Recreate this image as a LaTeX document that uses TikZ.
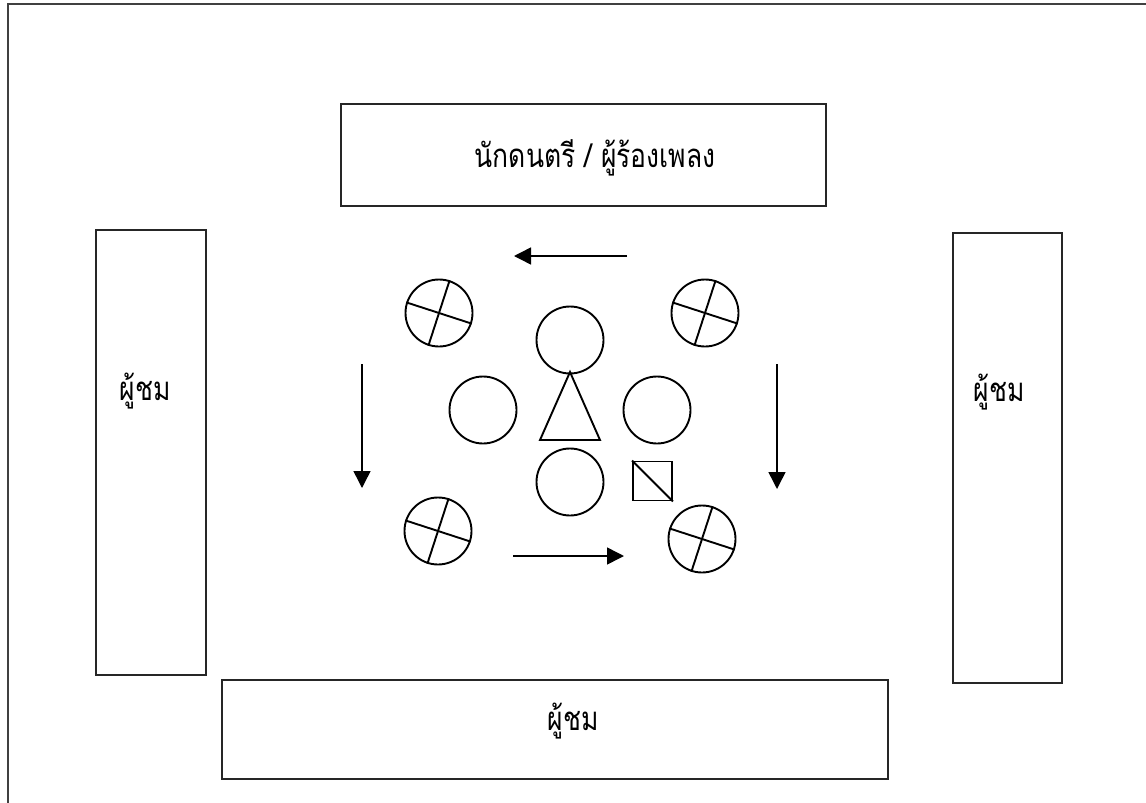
\documentclass[tikz,border=0pt]{standalone}
\usepackage{fontspec}
\newfontfamily\thaifont[Script=Thai]{Loma}
\usetikzlibrary{arrows.meta,shapes.geometric}
\newcommand{\tallthai}[1]{\scalebox{0.98}[1.22]{#1}}
\tikzset{
  frameline/.style={line width=1.8pt, draw=black!75},
  boxline/.style={line width=2pt, draw=black!85},
  thaitext/.style={font=\thaifont\fontsize{27}{30}\selectfont, anchor=base, inner sep=0pt},
  ring/.style={circle, draw, line width=1.9pt, minimum size=67pt, inner sep=0pt},
  sq/.style={rectangle, draw, line width=1.9pt, minimum size=39pt, inner sep=0pt},
  flow/.style={line width=1.5pt, -{Triangle[length=17pt,width=17pt]}},
}
\begin{document}
\begin{tikzpicture}[x=1pt,y=-1pt]
\useasboundingbox (0,0) rectangle (1146,803);
% outer frame (left and top edges visible)
\draw[frameline] (8,803) -- (8,4) -- (1146,4);
% boxes
\draw[boxline] (341,104) rectangle (826,206);
\draw[boxline] (96,230) rectangle (206,675);
\draw[boxline] (953,233) rectangle (1062,683);
\draw[boxline] (222,680) rectangle (888,779);
% labels
\node[thaitext] (ttop) at (595,167) {\tallthai{นักดนตรี / ผู้ร้องเพลง}};
\node[thaitext] (tleft) at (145,400) {\tallthai{ผู้ชม}};
\node[thaitext] (tright) at (999,401) {\tallthai{ผู้ชม}};
\node[thaitext] (tbottom) at (573,730) {\tallthai{ผู้ชม}};
% crossed circles
\foreach \n/\x/\y in {c1/439/313, c2/705/313, c3/438/531, c4/702/539}{
  \node[ring] (\n) at (\x,\y) {};
  \draw[line width=1.9pt] (\n.162) -- (\n.-18);
  \draw[line width=1.9pt] (\n.72) -- (\n.252);
}
% plain circles
\node[ring] (p1) at (570,340) {};
\node[ring] (p2) at (483,410) {};
\node[ring] (p3) at (657,410) {};
\node[ring] (p4) at (570,482) {};
% triangle
\coordinate (ta) at (570,372);
\coordinate (tb) at (540,440);
\coordinate (tc) at (600,440);
\draw[line width=1.9pt, line join=miter] (ta) -- (tb) -- (tc) -- cycle;
% square with diagonal
\node[sq] (s) at (652.5,481) {};
\draw[line width=1.9pt] (s.north west) -- (s.south east);
% arrows
\coordinate (a1s) at (627,256); \coordinate (a1e) at (514,256);
\coordinate (a2s) at (362,364); \coordinate (a2e) at (362,488);
\coordinate (a3s) at (777,364); \coordinate (a3e) at (777,489);
\coordinate (a4s) at (513,556); \coordinate (a4e) at (624,556);
\draw[flow] (a1s) -- (a1e);
\draw[flow] (a2s) -- (a2e);
\draw[flow] (a3s) -- (a3e);
\draw[flow] (a4s) -- (a4e);
\end{tikzpicture}
\end{document}
